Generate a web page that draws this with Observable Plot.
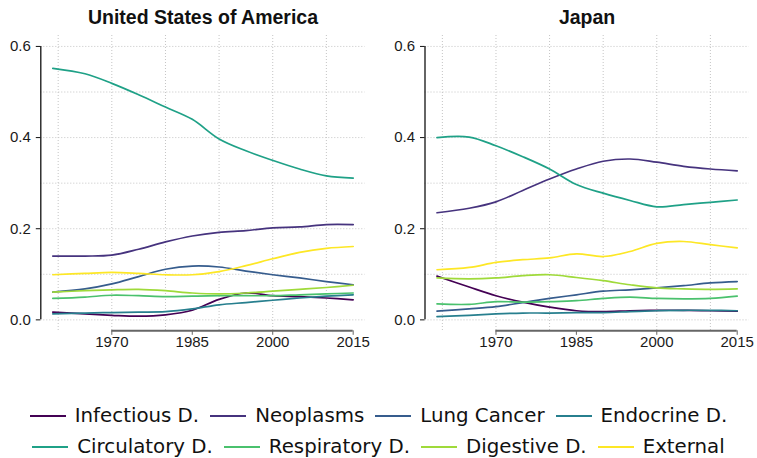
<!DOCTYPE html>
<html>
<head>
<meta charset="utf-8">
<script src="https://cdn.jsdelivr.net/npm/d3@7"></script>
<script src="https://cdn.jsdelivr.net/npm/@observablehq/plot@0.6"></script>
<style>
  html, body { margin: 0; padding: 0; background: #fff; }
  #wrap { position: relative; width: 757px; height: 458px; overflow: hidden; }
  .panel { position: absolute; top: 0; }
  #legend { position: absolute; left: 0; top: 400px; width: 757px; font-family: "DejaVu Sans", sans-serif; font-size: 19.8px; color: #111; }
  .row { display: flex; justify-content: center; align-items: center; height: 31px; }
  .item { display: inline-flex; align-items: center; margin: 0 5.5px; white-space: nowrap; }
  .item svg { margin-right: 9px; }
</style>
</head>
<body>
<div id="wrap">
  <div id="usa" class="panel" style="left:0px"></div>
  <div id="jpn" class="panel" style="left:378px"></div>
  <div id="legend"></div>
</div>
<script>
// ---- data ----
const causes = ["Infectious D.", "Neoplasms", "Lung Cancer", "Endocrine D.", "Circulatory D.", "Respiratory D.", "Digestive D.", "External"];
const colors = ["#440154", "#46337E", "#365C8D", "#277F8E", "#1FA187", "#4AC16D", "#9FDA3A", "#FDE725"];
const years = [1959, 1965, 1970, 1975, 1980, 1985, 1990, 1995, 2000, 2005, 2010, 2015];
const countries = ["United States of America", "Japan"];

const usaInfectious  = [0.017, 0.013, 0.010, 0.008, 0.011, 0.021, 0.045, 0.059, 0.053, 0.051, 0.048, 0.044];
const usaNeoplasms   = [0.140, 0.140, 0.142, 0.155, 0.171, 0.184, 0.192, 0.196, 0.202, 0.204, 0.209, 0.209];
const usaLung        = [0.061, 0.068, 0.079, 0.095, 0.111, 0.118, 0.116, 0.107, 0.099, 0.092, 0.084, 0.077];
const usaEndocrine   = [0.013, 0.015, 0.016, 0.017, 0.018, 0.024, 0.033, 0.038, 0.043, 0.048, 0.052, 0.055];
const usaCirculatory = [0.552, 0.540, 0.519, 0.494, 0.467, 0.440, 0.397, 0.371, 0.350, 0.331, 0.316, 0.311];
const usaRespiratory = [0.047, 0.050, 0.054, 0.053, 0.051, 0.052, 0.053, 0.053, 0.053, 0.055, 0.057, 0.059];
const usaDigestive   = [0.061, 0.064, 0.066, 0.067, 0.064, 0.059, 0.057, 0.059, 0.063, 0.067, 0.071, 0.076];
const usaExternal    = [0.099, 0.102, 0.104, 0.102, 0.099, 0.099, 0.106, 0.119, 0.134, 0.148, 0.157, 0.161];

const jpnInfectious  = [0.096, 0.072, 0.053, 0.039, 0.028, 0.020, 0.018, 0.020, 0.021, 0.021, 0.020, 0.019];
const jpnNeoplasms   = [0.235, 0.245, 0.259, 0.284, 0.309, 0.331, 0.348, 0.353, 0.346, 0.337, 0.331, 0.327];
const jpnLung        = [0.019, 0.024, 0.029, 0.038, 0.047, 0.055, 0.063, 0.066, 0.070, 0.075, 0.081, 0.084];
const jpnEndocrine   = [0.007, 0.010, 0.013, 0.015, 0.015, 0.016, 0.016, 0.018, 0.020, 0.021, 0.021, 0.020];
const jpnCirculatory = [0.400, 0.401, 0.382, 0.358, 0.331, 0.297, 0.278, 0.262, 0.248, 0.253, 0.258, 0.263];
const jpnRespiratory = [0.035, 0.034, 0.040, 0.039, 0.040, 0.042, 0.047, 0.050, 0.047, 0.046, 0.047, 0.052];
const jpnDigestive   = [0.092, 0.090, 0.092, 0.097, 0.099, 0.093, 0.086, 0.077, 0.070, 0.068, 0.067, 0.068];
const jpnExternal    = [0.110, 0.115, 0.126, 0.132, 0.136, 0.145, 0.139, 0.150, 0.168, 0.172, 0.165, 0.158];

const xTicks = [1970, 1985, 2000, 2015];
const xGrid = [1960, 1970, 1980, 1990, 2000, 2010];
const yTicks = [0, 0.2, 0.4, 0.6];
const yGrid = [0, 0.1, 0.2, 0.3, 0.4, 0.5, 0.6];

// ---- build tables ----
const usaSeries = [usaInfectious, usaNeoplasms, usaLung, usaEndocrine, usaCirculatory, usaRespiratory, usaDigestive, usaExternal];
const jpnSeries = [jpnInfectious, jpnNeoplasms, jpnLung, jpnEndocrine, jpnCirculatory, jpnRespiratory, jpnDigestive, jpnExternal];
function toRows(series) {
  const rows = [];
  series.forEach((vals, i) => vals.forEach((v, j) => rows.push({cause: causes[i], year: years[j], value: v})));
  return rows;
}

// R-style 4% axis expansion
const xExt = d3.extent(years), xPad = (xExt[1] - xExt[0]) * 0.04;
const xDomain = [xExt[0] - xPad, xExt[1] + xPad];
const yExt = d3.extent(yTicks), yPad = (yExt[1] - yExt[0]) * 0.04;
const yDomain = [yExt[0] - yPad, yExt[1] + yPad];

function panel(title, series, width, marginLeft, marginRight) {
  return Plot.plot({
    width, height: 365,
    marginLeft, marginRight, marginTop: 35, marginBottom: 34.7,
    x: {domain: xDomain},
    y: {domain: yDomain},
    color: {domain: causes, range: colors},
    style: {fontFamily: "'Liberation Sans', Arial, Helvetica, sans-serif", fontSize: "15px", color: "#1a1a1a", background: "transparent", overflow: "visible"},
    marks: [
      Plot.gridX(xGrid, {stroke: "#c4c4c4", strokeOpacity: 1, strokeDasharray: "1,2"}),
      Plot.gridY(yGrid, {stroke: "#c4c4c4", strokeOpacity: 1, strokeDasharray: "1,2"}),
      Plot.line(toRows(series), {x: "year", y: "value", stroke: "cause", z: "cause", curve: "catmull-rom", strokeWidth: 1.7}),
      Plot.axisY(yTicks, {anchor: "left", tickSize: 4.5, tickPadding: 5.5, tickFormat: d3.format(".1f"), label: null, stroke: "#111", fontSize: 15, fill: "#1a1a1a"}),
      Plot.axisX(xTicks, {anchor: "bottom", tickSize: 4.5, tickPadding: 1.5, tickFormat: d => String(d), label: null, stroke: "#666", fontSize: 15, fill: "#1a1a1a"}),
      Plot.ruleX([xDomain[0]], {y1: yTicks[0], y2: yTicks[yTicks.length - 1], stroke: "#111", strokeWidth: 1.3}),
      Plot.ruleY([yDomain[0]], {x1: xTicks[0], x2: xTicks[xTicks.length - 1], stroke: "#666", strokeWidth: 2}),
      Plot.text([title], {frameAnchor: "top", lineAnchor: "bottom", dy: -12, fontWeight: "bold", fontSize: 19.5, fill: "#111"})
    ]
  });
}

document.getElementById("usa").append(panel(countries[0], usaSeries, 378, 40.3, 13.3));
document.getElementById("jpn").append(panel(countries[1], jpnSeries, 379, 46.5, 8.3));

// ---- legend ----
const legend = document.getElementById("legend");
[causes.slice(0, 4), causes.slice(4)].forEach(rowCauses => {
  const row = document.createElement("div");
  row.className = "row";
  rowCauses.forEach(c => {
    const item = document.createElement("span");
    item.className = "item";
    const col = colors[causes.indexOf(c)];
    item.innerHTML = `<svg width="36" height="6"><line x1="0" x2="36" y1="3" y2="3" stroke="${col}" stroke-width="2"/></svg><span>${c}</span>`;
    row.append(item);
  });
  legend.append(row);
});
</script>
</body>
</html>
